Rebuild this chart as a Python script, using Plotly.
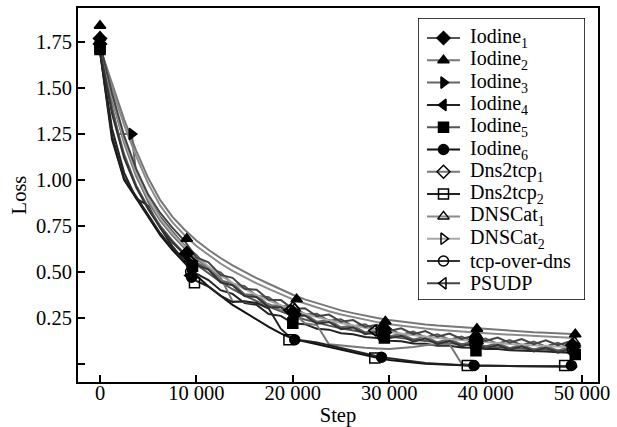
import plotly.graph_objects as go

G = [0, 1250, 2500, 3750, 5000, 6250, 7500, 8750, 10000, 11250, 12500, 13750, 15000,
     16250, 17500, 18750, 20000, 21250, 22500, 23750, 25000, 26250, 27500, 28750, 30000,
     31250, 32500, 33750, 35000, 36250, 37500, 38750, 40000, 41250, 42500, 43750, 45000,
     46250, 47500, 48750, 49500]

names = ["Iodine<sub>1</sub>", "Iodine<sub>2</sub>", "Iodine<sub>3</sub>", "Iodine<sub>4</sub>",
         "Iodine<sub>5</sub>", "Iodine<sub>6</sub>", "Dns2tcp<sub>1</sub>", "Dns2tcp<sub>2</sub>",
         "DNSCat<sub>1</sub>", "DNSCat<sub>2</sub>", "tcp-over-dns", "PSUDP"]

iodine1 = [1.72, 1.45, 1.21, 1.03, 0.90, 0.80, 0.72, 0.645, 0.592, 0.518, 0.497, 0.433, 0.422,
           0.368, 0.362, 0.313, 0.312, 0.268, 0.272, 0.233, 0.242, 0.203, 0.214, 0.178, 0.192,
           0.158, 0.174, 0.143, 0.16, 0.13, 0.148, 0.118, 0.137, 0.108, 0.128, 0.10, 0.12,
           0.093, 0.114, 0.087, 0.097]
iodine2 = [1.72, 1.52, 1.33, 1.16, 1.01, 0.89, 0.80, 0.73, 0.67, 0.62, 0.575, 0.535, 0.50,
           0.465, 0.435, 0.405, 0.375, 0.35, 0.33, 0.31, 0.29, 0.275, 0.26, 0.248, 0.237,
           0.228, 0.22, 0.213, 0.207, 0.202, 0.197, 0.192, 0.187, 0.183, 0.179, 0.175, 0.171,
           0.168, 0.165, 0.162, 0.16]
iodine3_steps = [0, 1250, 1900, 3300, 3750, 5000, 6250, 7500, 8750, 10000, 11250, 12500, 13750,
                 15000, 16250, 17500, 18750, 20000, 21250, 22500, 23750, 25000, 26250, 27500,
                 28750, 30000, 31250, 32500, 33750, 35000, 36250, 37500, 38750, 40000, 41250,
                 42500, 43750, 45000, 46250, 47500, 48750, 49500]
iodine3 = [1.76, 1.40, 1.25, 1.25, 1.03, 0.88, 0.78, 0.70, 0.63, 0.548, 0.522, 0.453, 0.437,
           0.378, 0.372, 0.318, 0.317, 0.268, 0.272, 0.228, 0.237, 0.198, 0.207, 0.17, 0.182,
           0.148, 0.162, 0.13, 0.147, 0.116, 0.134, 0.104, 0.122, 0.093, 0.112, 0.084, 0.104,
           0.076, 0.097, 0.07, 0.091, 0.077]
iodine4 = [1.70, 1.28, 1.04, 0.90, 0.86, 0.74, 0.64, 0.56, 0.49, 0.455, 0.40, 0.38, 0.33, 0.32,
           0.27, 0.26, 0.22, 0.215, 0.19, 0.185, 0.165, 0.16, 0.145, 0.14, 0.125, 0.122, 0.11,
           0.108, 0.098, 0.097, 0.088, 0.087, 0.08, 0.079, 0.073, 0.072, 0.067, 0.066, 0.062,
           0.061, 0.058]
iodine5 = [1.71, 1.38, 1.14, 0.97, 0.85, 0.75, 0.67, 0.60, 0.54, 0.49, 0.445, 0.405, 0.37, 0.34,
           0.31, 0.285, 0.26, 0.24, 0.222, 0.207, 0.193, 0.18, 0.168, 0.157, 0.147, 0.138, 0.13,
           0.123, 0.116, 0.11, 0.104, 0.098, 0.093, 0.089, 0.085, 0.081, 0.077, 0.074, 0.071,
           0.068, 0.066]
iodine6 = [1.70, 1.22, 1.00, 0.90, 0.80, 0.70, 0.62, 0.55, 0.48, 0.42, 0.37, 0.32, 0.28, 0.24,
           0.20, 0.165, 0.135, 0.12, 0.105, 0.09, 0.075, 0.06, 0.045, 0.032, 0.02, 0.012, 0.005,
           0.0, -0.004, -0.008, -0.01, -0.012, -0.012, -0.013, -0.013, -0.014, -0.014, -0.015,
           -0.015, -0.015, -0.015]
dns2tcp1 = [1.73, 1.44, 1.20, 1.02, 0.89, 0.78, 0.70, 0.63, 0.57, 0.52, 0.47, 0.34, 0.335, 0.33,
            0.325, 0.29, 0.28, 0.22, 0.21, 0.105, 0.098, 0.092, 0.087, 0.083, 0.08, 0.085, 0.09,
            0.10, 0.105, 0.105, 0.0, -0.01, -0.012, -0.013, -0.013, -0.014, -0.014, -0.014,
            -0.015, -0.015, -0.015]
dns2tcp2 = [1.70, 1.24, 1.01, 0.91, 0.81, 0.71, 0.63, 0.56, 0.45, 0.42, 0.37, 0.335, 0.34, 0.33,
            0.30, 0.19, 0.13, 0.125, 0.115, 0.10, 0.085, 0.07, 0.055, 0.04, 0.03, 0.02, 0.01,
            0.004, 0.0, -0.005, -0.01, -0.012, -0.012, -0.013, -0.013, -0.013, -0.014, -0.014,
            -0.014, -0.015, -0.015]
dnscat1 = [1.72, 1.50, 1.30, 1.13, 0.98, 0.86, 0.77, 0.70, 0.64, 0.59, 0.545, 0.505, 0.47, 0.437,
           0.407, 0.378, 0.35, 0.327, 0.305, 0.285, 0.267, 0.252, 0.238, 0.226, 0.215, 0.206,
           0.198, 0.191, 0.185, 0.179, 0.174, 0.169, 0.165, 0.161, 0.157, 0.153, 0.15, 0.147,
           0.144, 0.141, 0.139]
dnscat2 = [1.73, 1.46, 1.22, 1.04, 0.90, 0.79, 0.71, 0.64, 0.58, 0.53, 0.48, 0.44, 0.405, 0.373,
           0.343, 0.317, 0.293, 0.272, 0.253, 0.236, 0.221, 0.207, 0.194, 0.182, 0.172, 0.162,
           0.154, 0.146, 0.139, 0.133, 0.127, 0.121, 0.116, 0.111, 0.107, 0.103, 0.099, 0.096,
           0.093, 0.09, 0.088]
tcpoverdns = [1.71, 1.36, 1.12, 0.96, 0.84, 0.74, 0.66, 0.595, 0.538, 0.512, 0.443, 0.427, 0.368,
              0.362, 0.308, 0.307, 0.258, 0.262, 0.218, 0.227, 0.188, 0.197, 0.16, 0.172, 0.138,
              0.152, 0.12, 0.137, 0.106, 0.124, 0.094, 0.112, 0.083, 0.102, 0.074, 0.094, 0.066,
              0.087, 0.06, 0.081, 0.067]
psudp = [1.74, 1.47, 1.24, 1.06, 0.92, 0.82, 0.74, 0.67, 0.578, 0.552, 0.483, 0.467, 0.408,
         0.402, 0.348, 0.347, 0.298, 0.302, 0.258, 0.267, 0.228, 0.237, 0.20, 0.212, 0.178,
         0.192, 0.16, 0.177, 0.146, 0.164, 0.134, 0.152, 0.123, 0.142, 0.114, 0.134, 0.106,
         0.127, 0.10, 0.121, 0.107]

series_steps = [G, G, iodine3_steps, G, G, G, G, G, G, G, G, G]
series_vals = [iodine1, iodine2, iodine3, iodine4, iodine5, iodine6, dns2tcp1, dns2tcp2,
               dnscat1, dnscat2, tcpoverdns, psudp]

marker_steps = [
    [0, 9000, 20000, 29500, 39000, 49000],
    [0, 9000, 20400, 29600, 39100, 49300],
    [0, 3300, 9300, 20200, 29700, 39200, 49300],
    [0, 9300, 20000, 29400, 39000, 49000],
    [0, 9600, 20000, 29500, 39000, 49300],
    [0, 9500, 20200, 29200, 38800, 48900],
    [0, 9000, 20000, 29300, 39000, 49000],
    [0, 9800, 19600, 28500, 38100, 48200],
    [0, 9300, 20200, 29500, 39000, 49200],
    [0, 9500, 20300, 29600, 39200, 49300],
    [0, 9400, 20000, 29300, 38900, 49000],
    [0, 8800, 19600, 28400, 38800, 49000],
]
marker_vals = [
    [1.77, 0.60, 0.28, 0.19, 0.13, 0.10],
    [1.84, 0.68, 0.35, 0.23, 0.19, 0.16],
    [1.76, 1.25, 0.55, 0.26, 0.17, 0.11, 0.09],
    [1.75, 0.48, 0.24, 0.15, 0.09, 0.06],
    [1.71, 0.53, 0.22, 0.14, 0.07, 0.05],
    [1.72, 0.47, 0.13, 0.035, -0.01, -0.01],
    [1.74, 0.60, 0.30, 0.19, 0.14, 0.10],
    [1.72, 0.44, 0.13, 0.03, -0.01, -0.01],
    [1.78, 0.57, 0.30, 0.20, 0.16, 0.12],
    [1.76, 0.56, 0.27, 0.18, 0.12, 0.10],
    [1.73, 0.50, 0.24, 0.15, 0.10, 0.08],
    [1.75, 0.60, 0.29, 0.18, 0.12, 0.09],
]

line_colors = ["#555555", "#777777", "#666666", "#222222", "#555555", "#111111",
               "#777777", "#222222", "#8a8a8a", "#a8a8a8", "#333333", "#444444"]
symbols = ["diamond", "triangle-up", "triangle-right", "triangle-left", "square", "circle",
           "diamond-open", "square-open", "triangle-up-open", "triangle-right-open",
           "circle-open", "triangle-left-open"]

y_tickvals = [0, 0.25, 0.5, 0.75, 1.0, 1.25, 1.5, 1.75]
y_ticktext = ["", "0.25", "0.50", "0.75", "1.00", "1.25", "1.50", "1.75"]
x_tickvals = [0, 10000, 20000, 30000, 40000, 50000]
x_ticktext = ["0", "10 000", "20 000", "30 000", "40 000", "50 000"]

FONT = "Liberation Serif, Times New Roman, serif"
W, H = 617, 427
ML, MR, MT, MB = 78, 19, 8, 45
PW, PH = W - ML - MR, H - MT - MB

fig = go.Figure()
for i in range(len(names)):
    fig.add_trace(go.Scatter(x=series_steps[i], y=series_vals[i], mode="lines",
                             line=dict(color=line_colors[i], width=2),
                             showlegend=False, hoverinfo="skip"))
for i in range(len(names)):
    fig.add_trace(go.Scatter(x=marker_steps[i], y=marker_vals[i], mode="markers",
                             marker=dict(symbol=symbols[i], size=10, color="black",
                                         line=dict(color="black", width=1.5)),
                             showlegend=False, name=names[i]))

# ---- hand-built legend on an overlay axis measured in pixels ----
LEG_L, LEG_R, LEG_T, LEG_B = 418, 585, 18, 300
ROW0, ROWH = 38, 22.3
SAMPLE_X0, SAMPLE_X1, SAMPLE_XM, TEXT_X = 427, 460, 443.5, 469
for i in range(len(names)):
    ry = ROW0 + i * ROWH
    fig.add_trace(go.Scatter(x=[SAMPLE_X0, SAMPLE_X1], y=[ry, ry], mode="lines",
                             line=dict(color=line_colors[i], width=2),
                             xaxis="x2", yaxis="y2", showlegend=False, hoverinfo="skip"))
    fig.add_trace(go.Scatter(x=[SAMPLE_XM], y=[ry], mode="markers",
                             marker=dict(symbol=symbols[i], size=10, color="black",
                                         line=dict(color="black", width=1.5)),
                             xaxis="x2", yaxis="y2", showlegend=False, hoverinfo="skip"))
    fig.add_annotation(x=TEXT_X, y=ry, xref="x2", yref="y2", text=names[i],
                       showarrow=False, xanchor="left", yanchor="middle",
                       height=22, valign="middle", borderpad=0,
                       font=dict(family=FONT, size=20, color="black"))

fig.add_shape(type="rect", xref="x2", yref="y2", x0=LEG_L, x1=LEG_R, y0=LEG_T, y1=LEG_B,
              line=dict(color="black", width=1.5), layer="above")

fig.update_layout(
    width=W, height=H,
    margin=dict(l=ML, r=MR, t=MT, b=MB),
    paper_bgcolor="white", plot_bgcolor="white",
    font=dict(family=FONT, size=20.5, color="black"),
    showlegend=False,
    xaxis=dict(range=[-2282, 51660], tickvals=x_tickvals, ticktext=x_ticktext,
               ticks="inside", ticklen=7, tickwidth=2, tickcolor="black",
               showline=True, linecolor="black", linewidth=2, mirror=True,
               showgrid=False, zeroline=False, automargin=False,
               tickfont=dict(size=20.5), ticklabelstandoff=-9,
               title=dict(text="Step", font=dict(size=20.5), standoff=12)),
    yaxis=dict(range=[-0.10, 1.936], tickvals=y_tickvals, ticktext=y_ticktext,
               ticks="inside", ticklen=7, tickwidth=2, tickcolor="black",
               showline=True, linecolor="black", linewidth=2, mirror=True,
               showgrid=False, zeroline=False, automargin=False,
               tickfont=dict(size=20.5),
               title=dict(text="Loss", font=dict(size=20.5), standoff=4)),
    xaxis2=dict(domain=[(LEG_L - ML) / PW, (LEG_R - ML) / PW], range=[LEG_L, LEG_R],
                anchor="y2", visible=False, fixedrange=True),
    yaxis2=dict(domain=[1 - (LEG_B - MT) / PH, 1 - (LEG_T - MT) / PH], range=[LEG_B, LEG_T],
                anchor="x2", visible=False, fixedrange=True),
)

fig.write_html("out.html", post_script="document.body.style.margin='0';",
               config={"displayModeBar": False})
